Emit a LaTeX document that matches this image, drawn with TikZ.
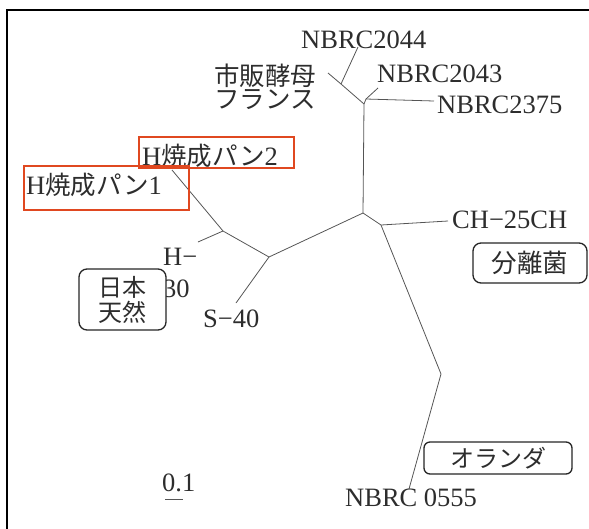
\documentclass[tikz,border=0pt]{standalone}
\usepackage{fontspec}
\setmainfont{Liberation Serif}
\newfontfamily\jpfont{Noto Sans CJK JP}
\newcommand\jtx[1]{{\jpfont\fontsize{25.5}{28}\selectfont #1}}
\definecolor{redbox}{RGB}{224,72,32}
\definecolor{txt}{RGB}{45,45,45}
\definecolor{branch}{RGB}{85,85,85}
\tikzset{
  lbl/.style={inner sep=0pt, text=txt, font=\fontsize{26.5}{28}\selectfont},
  jlbl/.style={inner sep=0pt, text=txt, font=\fontsize{25.5}{26}\jpfont},
  jsmall/.style={inner sep=0pt, text=txt, font=\fontsize{24}{25}\jpfont},
  br/.style={draw=branch, line width=0.8pt},
  redframe/.style={draw=redbox, line width=1.4pt},
  tagbox/.style={draw=black!85, line width=1.3pt, rounded corners=8pt, fill=white},
}
\begin{document}
\begin{tikzpicture}[x=1pt,y=-1pt]
\useasboundingbox (0,0) rectangle (589,528);
% outer frame
\draw[line width=2.4pt, black] (7,530) -- (7,10) -- (592,10);

% tree coordinates
\coordinate (L1) at (172,170);
\coordinate (A) at (223,231);
\coordinate (L30) at (198,242);
\coordinate (B) at (269,257);
\coordinate (LS40) at (236,303);
\coordinate (C) at (363,213);
\coordinate (D) at (381,225);
\coordinate (LCH) at (448,221);
\coordinate (K) at (441,374);
\coordinate (L555) at (409,489);
\coordinate (E) at (364,104);
\coordinate (G) at (341,84);
\coordinate (Lshi) at (328,73);
\coordinate (L2044) at (358,47);
\coordinate (F) at (366,99);
\coordinate (L2043) at (378,88);
\coordinate (L2375) at (434,101);

\draw[br] (L1) -- (A) -- (B) -- (C) -- (D) -- (LCH);
\draw[br] (A) -- (L30);
\draw[br] (B) -- (LS40);
\draw[br] (D) -- (K) -- (L555);
\draw[br] (C) -- (E) -- (G) -- (Lshi);
\draw[br] (G) -- (L2044);
\draw[br] (E) -- (F) -- (L2043);
\draw[br] (F) -- (L2375);

% labels
\node[lbl, anchor=base west] (n2044) at (301,48) {NBRC2044};
\node[lbl, anchor=base west] (n2043) at (377,82) {NBRC2043};
\node[lbl, anchor=base west] (n2375) at (437,113) {NBRC2375};
\node[jlbl, anchor=west] (shihan) at (214,76) {市販酵母};
\node[jlbl, anchor=west] (france) at (214,100) {フランス};

\draw[redframe] (139,137) rectangle (294,168);
\node[lbl, anchor=base west] (h2) at (142,165) {H\jtx{焼成パン}2};
\draw[redframe] (24,166) rectangle (189,210);
\node[lbl, anchor=base west] (h1) at (26,194) {H\jtx{焼成パン}1};

\node[lbl, anchor=base west] (hdash) at (163,265) {H−};
\node[lbl, anchor=base west] (thirty) at (163,297) {30};
\node[tagbox, minimum width=87pt, minimum height=61pt] (nihon) at (122.5,299.5) {};
\node[jsmall] (nihon1) at (122,287) {日本};
\node[jsmall] (nihon2) at (122,312) {天然};

\node[lbl, anchor=base west] (s40) at (203,327) {S−40};
\node[lbl, anchor=base west] (ch25) at (452,228) {CH−25CH};

\node[tagbox, minimum width=114pt, minimum height=40pt] (bunri) at (530,263) {};
\node[jlbl] (bunritxt) at (530,263) {分離菌};

\node[tagbox, minimum width=148pt, minimum height=32pt, rounded corners=6pt] (oranda) at (498,458) {};
\node[jsmall] (orandatxt) at (498,458) {オランダ};

\node[lbl, anchor=base west] (n555) at (345,506) {NBRC 0555};

\node[lbl, anchor=base west] (scale) at (162,491) {0.1};
\coordinate (sb1) at (165,499);
\coordinate (sb2) at (183,499);
\draw[draw=branch, line width=0.9pt] (sb1) -- (sb2);
\end{tikzpicture}
\end{document}
